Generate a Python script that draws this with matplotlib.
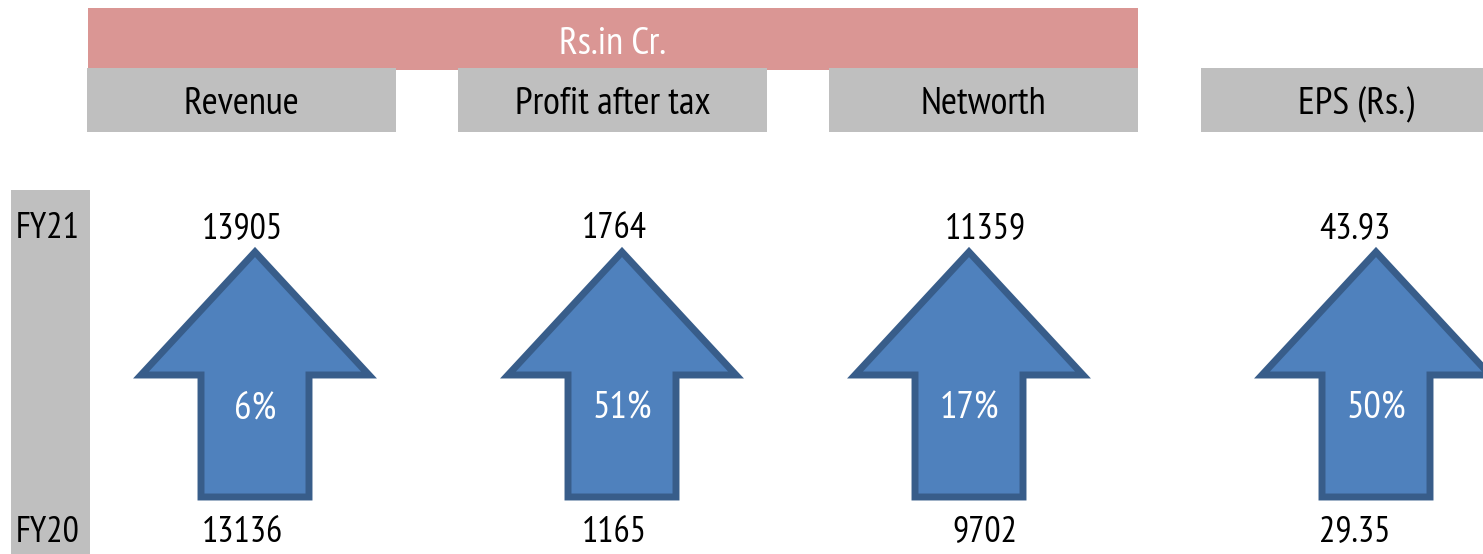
import matplotlib
matplotlib.use("Agg")
import matplotlib.pyplot as plt
from matplotlib.patches import Polygon, Rectangle

plt.rcParams['font.family'] = ['PT Sans Narrow', 'Carlito', 'DejaVu Sans']

# data
metrics = ['Revenue', 'Profit after tax', 'Networth', 'EPS (Rs.)']
fy21 = [13905, 1764, 11359, 43.93]
fy20 = [13136, 1165, 9702, 29.35]
fy21_labels = ['13905', '1764', '11359', '43.93']
fy20_labels = ['13136', '1165', '9702', '29.35']
years = ['FY21', 'FY20']
unit_label = 'Rs.in Cr.'

# layout (pixel space)
W, H = 1483, 554
header_left = [87, 458, 829, 1201]
header_w = 309
text_x = [242, 614, 985, 1355]
arrow_x = [255, 622, 969, 1376]
tip_y, head_y, base_y = 252, 375, 497
head_hw, shaft_hw = 114, 54

fill_col = '#4F81BD'
edge_col = '#385D8A'
grey = '#BFBFBF'
pink = '#DA9694'

fig = plt.figure(figsize=(W / 100, H / 100), dpi=100)
ax = fig.add_axes([0, 0, 1, 1])
ax.set_xlim(0, W)
ax.set_ylim(H, 0)
ax.axis('off')

# pink unit bar
ax.add_patch(Rectangle((88, 8), 1050, 62, color=pink, lw=0))
ax.text(613, 44, unit_label, color='white', fontsize=28, ha='center', va='center')

# grey headers
for left, name in zip(header_left, metrics):
    ax.add_patch(Rectangle((left, 68), header_w, 64, color=grey, lw=0))
    ax.text(left + header_w / 2, 105, name, fontsize=28, ha='center', va='center')

# year bar
ax.add_patch(Rectangle((11, 190), 79, 370, color=grey, lw=0))
ax.text(48, 229, years[0], fontsize=26, ha='center', va='center')
ax.text(48, 532, years[1], fontsize=26, ha='center', va='center')

for i in range(len(metrics)):
    cx = arrow_x[i]
    pts = [(cx, tip_y), (cx + head_hw, head_y), (cx + shaft_hw, head_y),
           (cx + shaft_hw, base_y), (cx - shaft_hw, base_y),
           (cx - shaft_hw, head_y), (cx - head_hw, head_y)]
    ax.add_patch(Polygon(pts, closed=True, facecolor=fill_col,
                         edgecolor=edge_col, lw=5, joinstyle='miter'))
    growth = round((fy21[i] / fy20[i] - 1) * 100)
    ax.text(cx, 409, f'{growth}%', color='white', fontsize=28,
            ha='center', va='center')
    ax.text(text_x[i], 229, fy21_labels[i], fontsize=26, ha='center', va='center')
    ax.text(text_x[i], 532, fy20_labels[i], fontsize=26, ha='center', va='center')

fig.savefig('out.png', dpi=100)
